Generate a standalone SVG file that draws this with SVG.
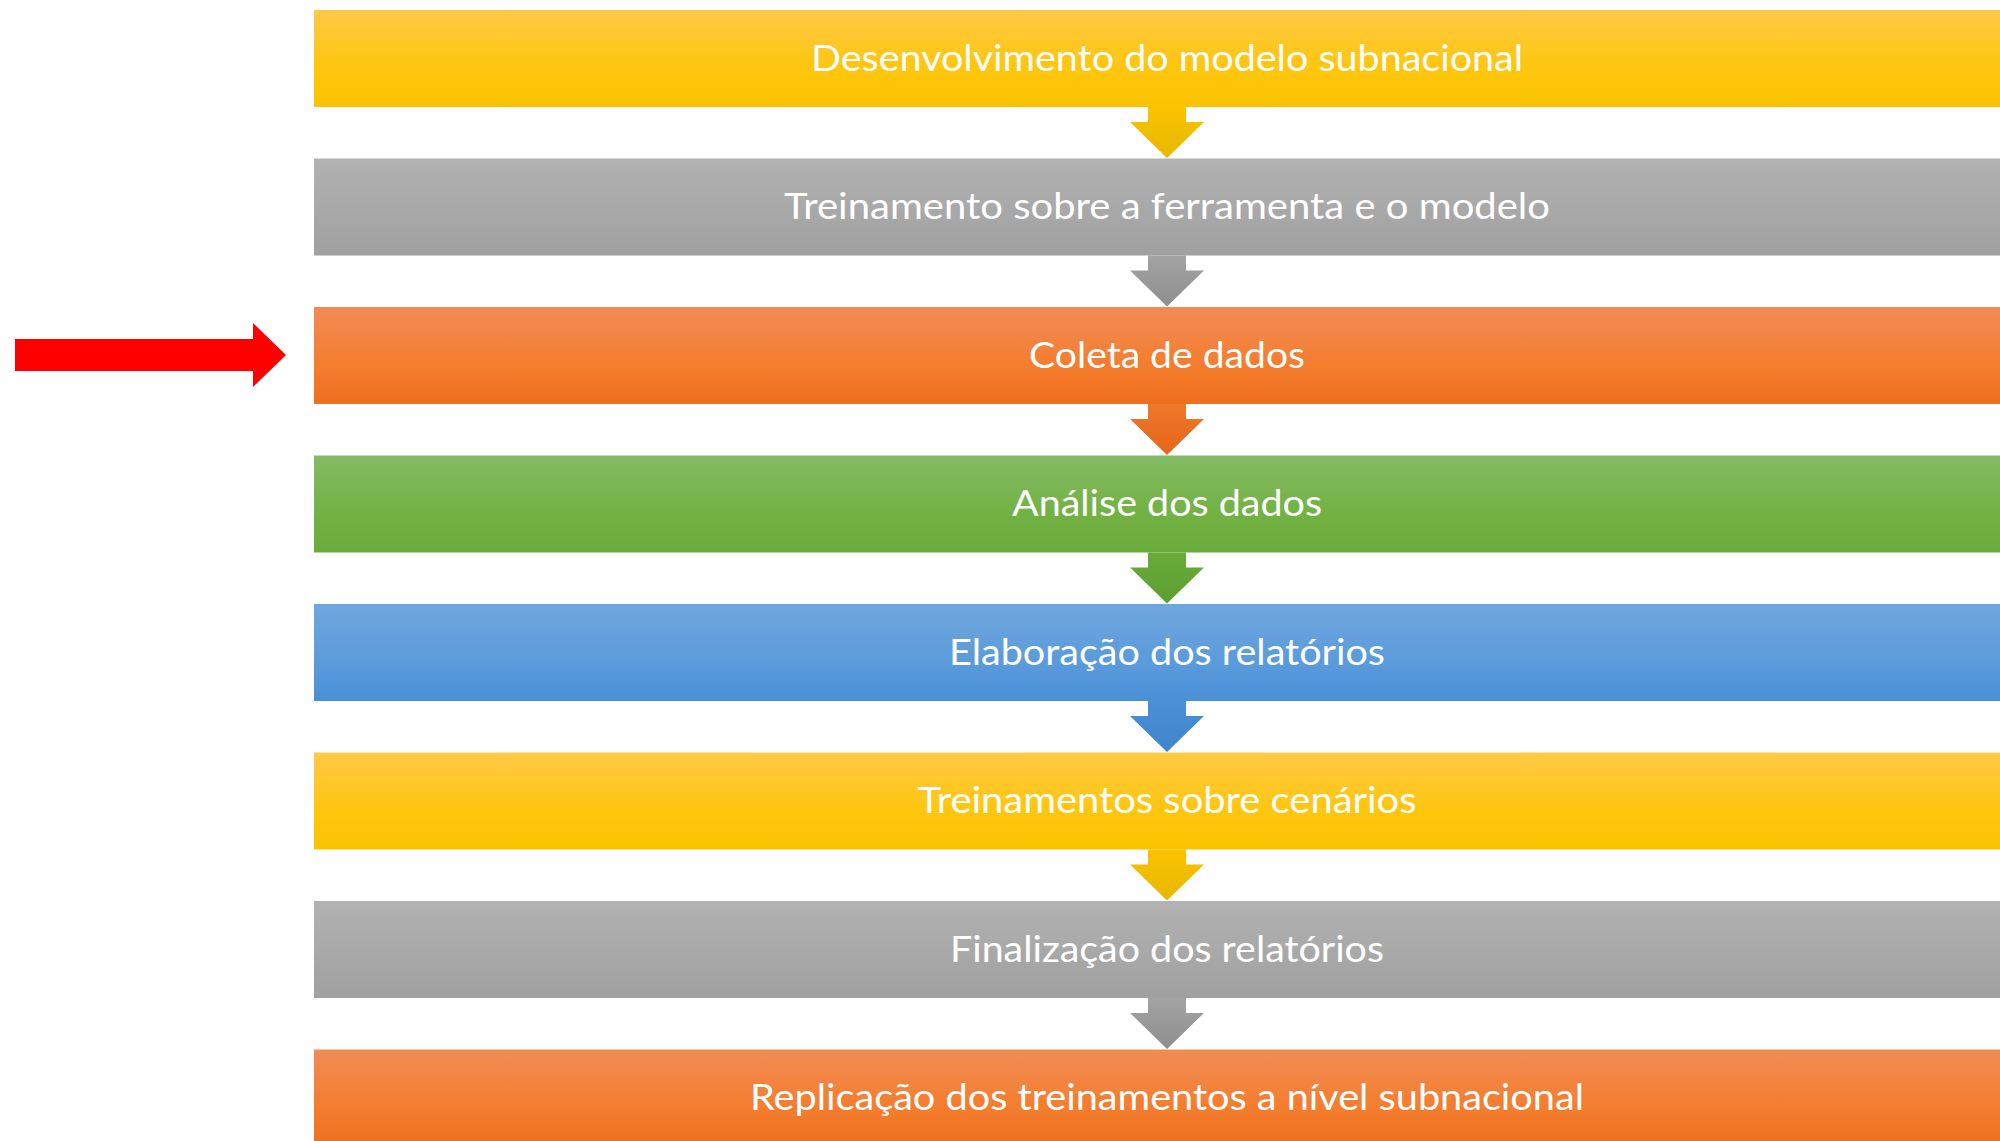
<svg xmlns="http://www.w3.org/2000/svg" width="2000" height="1141" viewBox="0 0 2000 1141">
<style>
.lbl{font-family:Lato,"Open Sans","Liberation Sans",sans-serif;font-size:36px;fill:#ffffff;text-anchor:middle}
</style>
<defs>
<linearGradient id="gY" x1="0" y1="0" x2="0" y2="1"><stop offset="0" stop-color="#FFC946"/><stop offset="0.6" stop-color="#FEC60E"/><stop offset="1" stop-color="#FAC300"/></linearGradient>
<linearGradient id="gG" x1="0" y1="0" x2="0" y2="1"><stop offset="0" stop-color="#B2B2B2"/><stop offset="1" stop-color="#A0A0A0"/></linearGradient>
<linearGradient id="gO" x1="0" y1="0" x2="0" y2="1"><stop offset="0" stop-color="#F18C56"/><stop offset="0.6" stop-color="#F47D2E"/><stop offset="1" stop-color="#EE6F1E"/></linearGradient>
<linearGradient id="gGr" x1="0" y1="0" x2="0" y2="1"><stop offset="0" stop-color="#85BA65"/><stop offset="0.6" stop-color="#72B243"/><stop offset="1" stop-color="#6AAC3B"/></linearGradient>
<linearGradient id="gB" x1="0" y1="0" x2="0" y2="1"><stop offset="0" stop-color="#70A7DD"/><stop offset="0.6" stop-color="#5A9BDB"/><stop offset="1" stop-color="#4A90D7"/></linearGradient>
<linearGradient id="aY" x1="0" y1="0" x2="0" y2="1"><stop offset="0" stop-color="#FAC300"/><stop offset="1" stop-color="#E8B700"/></linearGradient>
<linearGradient id="aG" x1="0" y1="0" x2="0" y2="1"><stop offset="0" stop-color="#A3A3A3"/><stop offset="1" stop-color="#8E8E8E"/></linearGradient>
<linearGradient id="aO" x1="0" y1="0" x2="0" y2="1"><stop offset="0" stop-color="#F0782A"/><stop offset="1" stop-color="#E5661A"/></linearGradient>
<linearGradient id="aGr" x1="0" y1="0" x2="0" y2="1"><stop offset="0" stop-color="#6AAC3B"/><stop offset="1" stop-color="#5C9E31"/></linearGradient>
<linearGradient id="aB" x1="0" y1="0" x2="0" y2="1"><stop offset="0" stop-color="#4A90D7"/><stop offset="1" stop-color="#3F84CC"/></linearGradient>
<path id="dn" d="M-19,0 H19 V15 H37 L0,51 L-37,15 H-19 Z"/>
</defs>
<rect width="2000" height="1141" fill="#ffffff"/>
<g id="connectors">
<use href="#dn" x="1167" y="107" fill="url(#aY)"/>
<use href="#dn" x="1167" y="255.5" fill="url(#aG)"/>
<use href="#dn" x="1167" y="404" fill="url(#aO)"/>
<use href="#dn" x="1167" y="552.5" fill="url(#aGr)"/>
<use href="#dn" x="1167" y="701" fill="url(#aB)"/>
<use href="#dn" x="1167" y="849.5" fill="url(#aY)"/>
<use href="#dn" x="1167" y="998" fill="url(#aG)"/>
</g>
<g id="pointer">
<path d="M15,339 H253 V323 L286,355 L253,387 V371 H15 Z" fill="#FF0000"/>
</g>
<g id="n1"><rect x="314" y="10" width="1706" height="97" fill="url(#gY)"/><text class="lbl" x="1167" y="70.5" textLength="712" lengthAdjust="spacingAndGlyphs">Desenvolvimento do modelo subnacional</text></g>
<g id="n2"><rect x="314" y="158.5" width="1706" height="97" fill="url(#gG)"/><text class="lbl" x="1167" y="219" textLength="766" lengthAdjust="spacingAndGlyphs">Treinamento sobre a ferramenta e o modelo</text></g>
<g id="n3"><rect x="314" y="307" width="1706" height="97" fill="url(#gO)"/><text class="lbl" x="1167" y="367.5" textLength="276" lengthAdjust="spacingAndGlyphs">Coleta de dados</text></g>
<g id="n4"><rect x="314" y="455.5" width="1706" height="97" fill="url(#gGr)"/><text class="lbl" x="1167" y="516" textLength="310" lengthAdjust="spacingAndGlyphs">Análise dos dados</text></g>
<g id="n5"><rect x="314" y="604" width="1706" height="97" fill="url(#gB)"/><text class="lbl" x="1167" y="664.5" textLength="436" lengthAdjust="spacingAndGlyphs">Elaboração dos relatórios</text></g>
<g id="n6"><rect x="314" y="752.5" width="1706" height="97" fill="url(#gY)"/><text class="lbl" x="1167" y="813" textLength="499" lengthAdjust="spacingAndGlyphs">Treinamentos sobre cenários</text></g>
<g id="n7"><rect x="314" y="901" width="1706" height="97" fill="url(#gG)"/><text class="lbl" x="1167" y="961.5" textLength="434" lengthAdjust="spacingAndGlyphs">Finalização dos relatórios</text></g>
<g id="n8"><rect x="314" y="1049.5" width="1706" height="97" fill="url(#gO)"/><text class="lbl" x="1167" y="1110" textLength="834" lengthAdjust="spacingAndGlyphs">Replicação dos treinamentos a nível subnacional</text></g>
</svg>
